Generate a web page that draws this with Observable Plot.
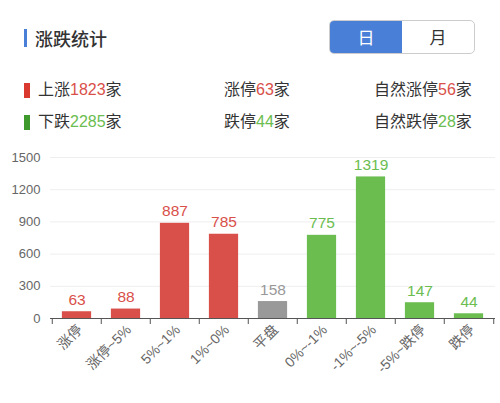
<!DOCTYPE html>
<html><head><meta charset="utf-8">
<script src="https://cdn.jsdelivr.net/npm/d3@7"></script>
<script src="https://cdn.jsdelivr.net/npm/@observablehq/plot@0.6"></script>
<style>
html,body{margin:0;padding:0;background:#fff;}
body{width:500px;height:403px;position:relative;overflow:hidden;font-family:"Liberation Sans","Noto Sans CJK SC",sans-serif;color:#333;}
.abs{position:absolute;}
#bar{left:24px;top:29px;width:3px;height:18px;background:#4a7fd8;}
#title{left:35px;top:26px;font-size:18px;font-weight:500;color:#333;line-height:24px;font-family:"Noto Sans CJK SC",sans-serif;}
#toggle{left:329px;top:20px;width:144px;height:32px;border:1px solid #ccc;border-radius:5px;overflow:hidden;display:flex;}
#toggle div{flex:1;text-align:center;line-height:32px;font-size:17px;font-family:"Noto Sans CJK SC",sans-serif;}
#toggle .on{background:#4a7fd8;color:#fff;}
.leg{font-size:16px;line-height:20px;}
.sq{width:6px;height:15px;}
#chart{position:absolute;left:0;top:140px;}
</style></head><body>
<div class="abs" id="bar"></div>
<div class="abs" id="title">涨跌统计</div>
<div class="abs" id="toggle"><div class="on">日</div><div>月</div></div>
<div id="legend"></div>
<div id="chart"></div>
<script>
const categories = ["涨停","涨停~5%","5%~1%","1%~0%","平盘","0%~-1%","-1%~-5%","-5%~跌停","跌停"];
const values = [63, 88, 887, 785, 158, 775, 1319, 147, 44];
const groups = ["up","up","up","up","flat","down","down","down","down"];
const yTicks = [0, 300, 600, 900, 1200, 1500];
const summaryLabels = [["上涨","家"],["涨停","家"],["自然涨停","家"],["下跌","家"],["跌停","家"],["自然跌停","家"]];
const summaryValues = [1823, 63, 56, 2285, 44, 28];
const summaryGroups = ["up","up","up","down","down","down"];

const colors = {up:"#d9504a", flat:"#999999", down:"#6bbd50"};
const textColors = {up:"#d9504a", flat:"#999999", down:"#6bbd50"};

// legend
const legend = document.getElementById("legend");
const colX = [38, 224, 374];
const rowY = [80, 112];
summaryLabels.forEach((lab, i) => {
  const r = Math.floor(i / 3), c = i % 3;
  const d = document.createElement("div");
  d.className = "abs leg";
  d.style.left = colX[c] + "px";
  d.style.top = rowY[r] + "px";
  d.innerHTML = `${lab[0]}<span style="color:${textColors[summaryGroups[i]]}">${summaryValues[i]}</span>${lab[1]}`;
  legend.appendChild(d);
  if (c === 0) {
    const s = document.createElement("div");
    s.className = "abs sq";
    s.style.left = "24px";
    s.style.top = (rowY[r] + 3) + "px";
    s.style.background = summaryGroups[i] === "up" ? "#d9392f" : "#3f9a2e";
    legend.appendChild(s);
  }
});

const data = categories.map((c, i) => ({cat: c, value: values[i], group: groups[i]}));
const W = 500, ML = 50, MR = 5;
const bw = (W - ML - MR) / categories.length;

const chart = Plot.plot({
  width: W, height: 263,
  marginTop: 17, marginBottom: 85, marginLeft: 50, marginRight: MR,
  style: {fontFamily: '"Liberation Sans","Noto Sans CJK SC",sans-serif', background: "#fff"},
  x: {domain: categories, padding: 0, axis: null, label: null},
  y: {domain: [0, 1500], axis: null, label: null},
  color: {domain: ["up","flat","down"], range: [colors.up, colors.flat, colors.down]},
  marks: [
    Plot.gridY(yTicks.filter(t => t > 0), {stroke: "#eeeeee", strokeOpacity: 1}),
    Plot.axisY({ticks: yTicks, tickFormat: d => String(d), tickSize: 0, tickPadding: 10, fontSize: 13, fill: "#666", label: null}),
    Plot.barY(data, {x: "cat", y: "value", fill: "group", insetLeft: bw * 0.2, insetRight: bw * 0.2}),
    Plot.text(data, {x: "cat", y: "value", text: d => String(d.value), fill: d => textColors[d.group], lineAnchor: "bottom", dy: -7, fontSize: 15.5}),
    Plot.ruleY([0], {stroke: "#555", strokeWidth: 1.2}),
    Plot.axisX({tickSize: 6, text: null, dx: -bw / 2, stroke: "#555", label: null}),
    Plot.axisX({ticks: [categories[categories.length - 1]], tickSize: 6, text: null, dx: bw / 2, stroke: "#555", label: null}),
    Plot.axisX({tickSize: 0, tickPadding: 9, tickRotate: -45, fontSize: 14, fill: "#666", label: null, dx: 3})
  ]
});
document.getElementById("chart").appendChild(chart);
</script>
</body></html>
